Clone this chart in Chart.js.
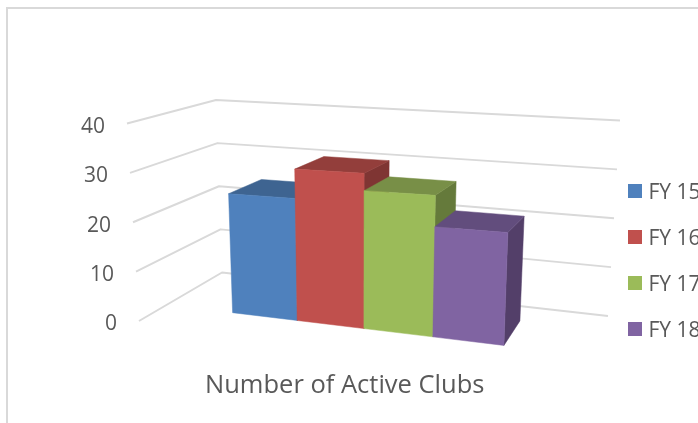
<!DOCTYPE html>
<html>
<head>
<meta charset="utf-8">
<style>
  html, body { margin: 0; padding: 0; background: #fff; overflow: hidden; width: 698px; height: 423px; }
  #frame { position: absolute; left: 6px; top: 7px; width: 800px; height: 500px; border: 2px solid #d9d9d9; }
  canvas { position: absolute; left: 0; top: 0; }
</style>
</head>
<body>
<div id="frame"></div>
<canvas id="clubsChart" width="698" height="423"></canvas>
<script src="https://cdn.jsdelivr.net/npm/chart.js@4/dist/chart.umd.js"></script>
<script>
const categories = ["Number of Active Clubs"];
const seriesNames = ["FY 15", "FY 16", "FY 17", "FY 18"];
const activeClubs = [24.5, 30.4, 27, 21];
const yTicks = [0, 10, 20, 30, 40];

const frontColors = ["#4f81bd", "#c0504d", "#9bbb59", "#8064a2"];
const topColors = ["#3e6491", "#933e3b", "#788f47", "#624d7d"];
const sideColors = ["#365780", "#7f3533", "#657a3b", "#533f69"];
const textColor = "#595959";
const gridColor = "#d9d9d9";
const fontFamily = "'Open Sans', sans-serif";

// corners of the 3d box on the page, [x, y]
const box = {
  frontBottomLeft: [139, 321], frontBottomRight: [582, 376],
  backBottomLeft: [222, 272.5], backBottomRight: [608, 316],
  frontTopLeft: [127, 123.5], frontTopRight: [594, 141],
  backTopLeft: [216, 100], backTopRight: [620, 120.5],
};
const barFront = 0.335; // depth of bar front and back inside the box
const barBack = 0.76;

const mix = (a, b, t) => [a[0] + (b[0] - a[0]) * t, a[1] + (b[1] - a[1]) * t];

// u along the categories, v up the values, w into the depth, all 0..1
function project(u, v, w) {
  const bottom = mix(mix(box.frontBottomLeft, box.frontBottomRight, u), mix(box.backBottomLeft, box.backBottomRight, u), w);
  const top = mix(mix(box.frontTopLeft, box.frontTopRight, u), mix(box.backTopLeft, box.backTopRight, u), w);
  return mix(bottom, top, v);
}

// bars get wider towards the viewer on the right
const perspective = (f) => f - 0.01 - 0.1 * f * (1 - f);

function face(ctx, color, points) {
  ctx.fillStyle = color;
  ctx.strokeStyle = color;
  ctx.lineWidth = 0.5;
  ctx.beginPath();
  points.forEach((p, i) => (i ? ctx.lineTo(p[0], p[1]) : ctx.moveTo(p[0], p[1])));
  ctx.closePath();
  ctx.fill();
  ctx.stroke();
}

// legend swatch as an image, square set off-centre so it sits closer to the text
function legendSwatch(color) {
  const swatch = document.createElement("canvas");
  swatch.width = 28;
  swatch.height = 28;
  const c = swatch.getContext("2d");
  c.fillStyle = color;
  c.fillRect(11, 5, 14, 14);
  return swatch;
}

const box3d = {
  id: "box3d",
  afterLayout(chart) {
    // legend sits beside the box and runs off the right edge
    const legend = chart.legend;
    legend.left = 599;
    legend.right = 720;
    legend.top = 157.5;
    legend.bottom = 400;
    legend.width = legend.right - legend.left;
    legend.height = legend.bottom - legend.top;
  },
  beforeDatasetsDraw(chart) {
    const { ctx, chartArea: area, scales } = chart;
    const vOf = (py) => (area.bottom - py) / area.height;

    // walls
    ctx.save();
    ctx.strokeStyle = gridColor;
    ctx.lineWidth = 2;
    ctx.lineJoin = "round";
    ctx.font = "21px " + fontFamily;
    ctx.textAlign = "right";
    ctx.textBaseline = "middle";
    scales.y.ticks.forEach((tick) => {
      const v = vOf(scales.y.getPixelForValue(tick.value));
      const a = project(0, v, 0);
      const b = project(0, v, 1);
      const c = project(1, v, 1);
      ctx.beginPath();
      ctx.moveTo(a[0], a[1]);
      ctx.lineTo(b[0], b[1]);
      ctx.lineTo(c[0], c[1]);
      ctx.stroke();
      ctx.fillStyle = textColor;
      ctx.fillText(tick.label, a[0] - 22, a[1] + 3.5);
    });

    // bars, left to right so the later ones cover the sides
    seriesNames.forEach((name, i) => {
      const el = chart.getDatasetMeta(i).data[0];
      const u0 = perspective((el.x - el.width / 2 - area.left) / area.width);
      const u1 = perspective((el.x + el.width / 2 - area.left) / area.width);
      const v1 = vOf(el.y);
      const v0 = vOf(el.base);
      face(ctx, sideColors[i], [project(u1, v0, barFront), project(u1, v1, barFront), project(u1, v1, barBack), project(u1, v0, barBack)]);
      face(ctx, topColors[i], [project(u0, v1, barFront), project(u1, v1, barFront), project(u1, v1, barBack), project(u0, v1, barBack)]);
      face(ctx, frontColors[i], [project(u0, v0, barFront), project(u1, v0, barFront), project(u1, v1, barFront), project(u0, v1, barFront)]);
    });
    ctx.restore();
    return false;
  },
};

new Chart(document.getElementById("clubsChart"), {
  type: "bar",
  data: {
    labels: categories,
    datasets: seriesNames.map((name, i) => ({
      label: name,
      data: [activeClubs[i]],
      backgroundColor: frontColors[i],
      categoryPercentage: 0.64,
      barPercentage: 1,
    })),
  },
  options: {
    responsive: false,
    animation: false,
    layout: { padding: { left: 103, right: 0, top: 0, bottom: 19 } },
    scales: {
      x: {
        grid: { display: false },
        border: { display: false },
        ticks: { color: textColor, font: { family: fontFamily, size: 25.5 }, maxRotation: 0 },
      },
      y: {
        display: false,
        min: yTicks[0],
        max: yTicks[yTicks.length - 1],
        ticks: { stepSize: 10 },
      },
    },
    plugins: {
      tooltip: { enabled: false },
      legend: {
        position: "right",
        align: "start",
        labels: {
          boxWidth: 14,
          boxHeight: 14,
          padding: 25,
          color: textColor,
          font: { family: fontFamily, size: 21 },
          usePointStyle: true,
          generateLabels(chart) {
            return Chart.defaults.plugins.legend.labels.generateLabels(chart).map((item, i) => ({
              ...item,
              pointStyle: legendSwatch(frontColors[i]),
            }));
          },
        },
      },
    },
  },
  plugins: [box3d],
});
</script>
</body>
</html>
